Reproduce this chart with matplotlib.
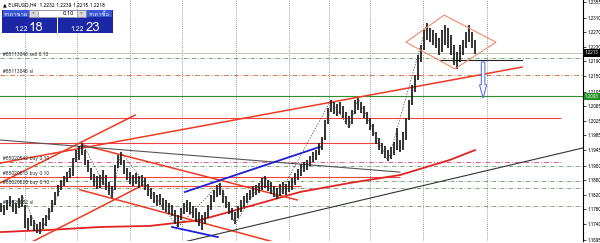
import numpy as np
import matplotlib
matplotlib.use('Agg')
import matplotlib.pyplot as plt
import matplotlib.font_manager as fm
from matplotlib.ft2font import FT2Font
from matplotlib.patches import Rectangle, Polygon

# EURUSD H4 bars (one bar every 3 px)
highs = [1.1797, 1.1792, 1.1806, 1.1817, 1.1806, 1.1797, 1.1811, 1.1820, 1.1792, 1.1756,
         1.1764, 1.1750, 1.1739, 1.1745, 1.1756, 1.1764, 1.1784, 1.1806, 1.1828, 1.1847,
         1.1861, 1.1872, 1.1883, 1.1894, 1.1922, 1.1944, 1.1955, 1.1964, 1.1944, 1.1917,
         1.1894, 1.1878, 1.1872, 1.1875, 1.1889, 1.1875, 1.1856, 1.1845, 1.1903, 1.1930,
         1.1939, 1.1917, 1.1894, 1.1883, 1.1875, 1.1881, 1.1872, 1.1875, 1.1867, 1.1850,
         1.1839, 1.1828, 1.1820, 1.1822, 1.1811, 1.1806, 1.1797, 1.1792, 1.1778, 1.1764,
         1.1784, 1.1797, 1.1806, 1.1800, 1.1789, 1.1784, 1.1773, 1.1764, 1.1773, 1.1792,
         1.1820, 1.1834, 1.1847, 1.1853, 1.1834, 1.1817, 1.1800, 1.1784, 1.1773, 1.1789,
         1.1806, 1.1817, 1.1825, 1.1834, 1.1845, 1.1847, 1.1853, 1.1867, 1.1872, 1.1861,
         1.1856, 1.1845, 1.1839, 1.1850, 1.1856, 1.1850, 1.1858, 1.1867, 1.1881, 1.1892,
         1.1906, 1.1911, 1.1917, 1.1928, 1.1939, 1.1944, 1.1964, 1.1980, 1.2027, 1.2061,
         1.2083, 1.2077, 1.2072, 1.2077, 1.2066, 1.2050, 1.2038, 1.2055, 1.2083, 1.2088,
         1.2077, 1.2066, 1.2050, 1.2033, 1.2016, 1.1994, 1.1978, 1.1964, 1.1955, 1.1944,
         1.1953, 1.1966, 1.2005, 1.1972, 1.1994, 1.2033, 1.2083, 1.2124, 1.2152, 1.2207,
         1.2235, 1.2277, 1.2296, 1.2282, 1.2277, 1.2268, 1.2255, 1.2277, 1.2291, 1.2282,
         1.2263, 1.2235, 1.2216, 1.2235, 1.2249, 1.2271, 1.2291, 1.2271, 1.2249]
lows = [1.1773, 1.1764, 1.1778, 1.1789, 1.1773, 1.1767, 1.1784, 1.1786, 1.1728, 1.1723,
        1.1734, 1.1720, 1.1714, 1.1712, 1.1725, 1.1734, 1.1750, 1.1773, 1.1792, 1.1817,
        1.1834, 1.1845, 1.1856, 1.1867, 1.1872, 1.1911, 1.1917, 1.1930, 1.1903, 1.1883,
        1.1861, 1.1845, 1.1836, 1.1839, 1.1847, 1.1834, 1.1820, 1.1811, 1.1834, 1.1894,
        1.1903, 1.1878, 1.1861, 1.1850, 1.1845, 1.1850, 1.1839, 1.1845, 1.1834, 1.1817,
        1.1809, 1.1797, 1.1789, 1.1792, 1.1778, 1.1773, 1.1767, 1.1761, 1.1739, 1.1731,
        1.1750, 1.1767, 1.1773, 1.1767, 1.1756, 1.1745, 1.1734, 1.1723, 1.1739, 1.1756,
        1.1778, 1.1800, 1.1814, 1.1820, 1.1797, 1.1784, 1.1767, 1.1750, 1.1739, 1.1756,
        1.1773, 1.1786, 1.1797, 1.1806, 1.1814, 1.1820, 1.1825, 1.1834, 1.1839, 1.1831,
        1.1822, 1.1814, 1.1809, 1.1817, 1.1822, 1.1820, 1.1828, 1.1834, 1.1847, 1.1861,
        1.1872, 1.1883, 1.1889, 1.1900, 1.1911, 1.1917, 1.1930, 1.1944, 1.1972, 1.2016,
        1.2050, 1.2044, 1.2038, 1.2044, 1.2033, 1.2016, 1.2005, 1.2016, 1.2044, 1.2055,
        1.2047, 1.2033, 1.2016, 1.2000, 1.1983, 1.1961, 1.1944, 1.1933, 1.1922, 1.1914,
        1.1919, 1.1930, 1.1944, 1.1939, 1.1944, 1.1972, 1.2027, 1.2069, 1.2105, 1.2138,
        1.2188, 1.2221, 1.2249, 1.2243, 1.2235, 1.2227, 1.2207, 1.2216, 1.2235, 1.2227,
        1.2207, 1.2180, 1.2169, 1.2188, 1.2207, 1.2227, 1.2243, 1.2227, 1.2210]

# price scale labels on the right
y_labels = ['1.2355', '1.2310', '1.2270', '1.2230', '1.2190', '1.2150', '1.2105', '1.2065',
            '1.2025', '1.1985', '1.1945', '1.1900', '1.1860', '1.1820', '1.1780', '1.1740', '1.1695']
bid = 1.2213
alert_price = 1.2093

# period separators (bar numbers)
grid_bars = [8, 25.3, 43, 60.3, 78.3, 96, 109.3, 123, 140.7, 162]

# zigzag: bar numbers of the swing points, starting with a high
zz_bars = [7, 13, 27, 37, 40, 59, 73, 78, 88, 92, 110, 116, 119, 129, 142]

# long moving average (bar, price)
ma_bars = [0, 16.3, 33, 49.7, 66.3, 83, 99.7, 116.3, 133, 149.7, 158]
ma_vals = [1.1717, 1.1723, 1.1731, 1.1734, 1.1750, 1.1789, 1.1828, 1.1853, 1.1875, 1.1917, 1.1944]

# trend lines, (bar, price) -> (bar, price)
red_lines = [((-0.3, 1.1853), (44.7, 1.2041)),
             ((9.7, 1.1687), (47.3, 1.1847)),
             ((-0.3, 1.1908), (173.7, 1.2174)),
             ((27.3, 1.1958), (98.7, 1.1806)),
             ((26.3, 1.1834), (92.0, 1.1687))]
grey_line = ((-0.3, 1.1972), (133.0, 1.1883))
black_line = ((59.7, 1.1687), (194.0, 1.1950))
blue_lines = [((61.3, 1.1828), (106.3, 1.1953)),
              ((57.0, 1.1731), (72.3, 1.1703))]
stop_line = ((146.3, 1.2194), (173.7, 1.2194))

# diamond pattern corners (bar, price)
diamond_bars = [135.0, 147.7, 165.0, 151.3]
diamond_vals = [1.2243, 1.2318, 1.2243, 1.2169]

# hollow arrow (bar, top, head start, tip)
arrow_bar = 160.7
arrow_top, arrow_head, arrow_tip = 1.2188, 1.2125, 1.2088

# horizontal lines: price, end bar
red_levels = [(1.2033, 186.7), (1.1964, 126.3), (1.1870, 133.0), (1.1845, 100.0)]
pink_levels = [(1.1911, 187.0)]
green_levels = [1.2199, 1.1900, 1.1858, 1.1839, 1.1789]
sl_level = 1.2152

# order labels on the left
order_labels = [(1.2199, '#85113046 sell 0.10'),
                (1.2152, '#85113046 sl'),
                (1.1911, '#85020542 buy 0.10'),
                (1.1870, '#85020613 buy 0.10'),
                (1.1845, '#85020620 buy 0.10'),
                (1.1789, '#85020652 sl')]

# find something that can draw Thai
thai_font = None
for f in fm.fontManager.ttflist:
    try:
        if 0x0E01 in FT2Font(f.fname).get_charmap():
            thai_font = f.name
            break
    except Exception:
        pass
fam = [thai_font, 'DejaVu Sans'] if thai_font else ['DejaVu Sans']
plt.rcParams['font.family'] = fam

fig = plt.figure(figsize=(6.0, 2.43), dpi=100)
ax = fig.add_axes([0, 2 / 243, 583 / 600, 241 / 243])
ax.set_xlim(-1 / 3, 194)
ax.set_ylim(1.16922, 1.23598)
for s in ['top', 'left', 'bottom']:
    ax.spines[s].set_visible(False)
ax.spines['right'].set_linewidth(0.8)
ax.set_xticks([])
ax.yaxis.tick_right()
ax.set_yticks([float(v) for v in y_labels])
ax.set_yticklabels(y_labels)
ax.tick_params(axis='y', labelsize=3.3, length=2, width=0.5, pad=1, colors='black')

for b in grid_bars:
    ax.axvline(b, color='#777777', lw=0.6, ls=(0, (1, 1.5)), zorder=1)

# horizontal levels
ax.axhline(bid, color='#b5c8b5', lw=0.7, zorder=1)
ax.axhline(alert_price, color='#2f8f2f', lw=0.8, zorder=1)
ax.axhline(sl_level, color='#d07a55', lw=0.7, ls=(0, (5, 2, 1, 2)), zorder=1)
for p in green_levels:
    ax.axhline(p, color='#6d9a6d', lw=0.6, ls=(0, (5, 2, 1, 2)), zorder=1)
for p, xe in red_levels:
    ax.hlines(p, -1, xe, color='#ee4444', lw=0.8, zorder=1)
for p, xe in pink_levels:
    ax.hlines(p, -1, xe, color='#e0607a', lw=0.7, ls=(0, (5, 2, 1, 2)), zorder=1)

# moving average and trend lines
ax.plot(ma_bars, ma_vals, color='#e32222', lw=1.3, zorder=2)
for (x0, p0), (x1, p1) in red_lines:
    ax.plot([x0, x1], [p0, p1], color='#ee3a22', lw=1.1, zorder=2)
ax.plot(*zip(*grey_line), color='#555555', lw=0.8, zorder=2)
ax.plot(*zip(*black_line), color='#333333', lw=0.8, zorder=2)
for (x0, p0), (x1, p1) in blue_lines:
    ax.plot([x0, x1], [p0, p1], color='#1f1fd8', lw=1.3, zorder=2)
ax.plot(*zip(*stop_line), color='#222222', lw=0.8, zorder=2)

# price bars
xs = np.arange(len(highs))
ax.vlines(xs, lows, highs, color='#1a1a1a', lw=1.25, zorder=3)

# zigzag
zz_vals = [highs[b] if i % 2 == 0 else lows[b] for i, b in enumerate(zz_bars)]
ax.plot(zz_bars, zz_vals, color='#444444', lw=0.5, ls=(0, (2, 2)), zorder=4)

# diamond
ax.add_patch(Polygon(list(zip(diamond_bars, diamond_vals)), closed=True, fill=False,
                     ec='#f08a6a', lw=0.8, zorder=4))

# hollow down arrow
w1, w2 = 0.6, 1.2
arrow = [(arrow_bar - w1, arrow_top), (arrow_bar + w1, arrow_top), (arrow_bar + w1, arrow_head),
         (arrow_bar + w2, arrow_head), (arrow_bar, arrow_tip), (arrow_bar - w2, arrow_head),
         (arrow_bar - w1, arrow_head)]
ax.add_patch(Polygon(arrow, closed=True, fc='white', ec='#4a66e0', lw=0.7, zorder=4))

for p, t in order_labels:
    ax.text(0.7, p + 0.0003, t, fontsize=3.6, color='#333333', va='bottom', ha='left', zorder=5)

# price boxes on the scale
ax.text(1.003, bid, f'{bid:.4f}', transform=ax.get_yaxis_transform(), fontsize=3.3,
        color='white', va='center', ha='left', clip_on=False,
        bbox=dict(fc='black', ec='none', pad=0.8))
ax.text(1.003, alert_price, f'{alert_price:.4f}', transform=ax.get_yaxis_transform(), fontsize=3.3,
        color='white', va='center', ha='left', clip_on=False,
        bbox=dict(fc='#1f8f1f', ec='none', pad=0.8))

# header and one-click trading panel, in pixels
ui = fig.add_axes([0, 0, 1, 1])
ui.set_xlim(0, 600)
ui.set_ylim(243, 0)
ui.axis('off')
ui.text(3, 5, '\u25b2 EURUSD,H4  1.2232 1.2239 1.2215 1.2218', fontsize=3.5, va='center', ha='left')

blue = '#1c27a6'
ui.add_patch(Rectangle((2, 10), 55, 23.5, fc=blue, ec='none'))
ui.add_patch(Rectangle((58, 10), 55, 23.5, fc=blue, ec='none'))
ui.add_patch(Rectangle((3, 10.5), 25.5, 7, fc='#3a57d6', ec='none'))
ui.add_patch(Rectangle((86.5, 10.5), 25.5, 7, fc='#3a57d6', ec='none'))
ui.text(15.7, 14.2, 'ราคาขาย', fontsize=4.2, color='white', ha='center', va='center')
ui.text(99.2, 14.2, 'ราคาซื้อ', fontsize=4.2, color='white', ha='center', va='center')
ui.add_patch(Rectangle((29, 10), 9, 7.5, fc='#d9d9d9', ec='#9a9a9a', lw=0.4))
ui.add_patch(Rectangle((38, 10), 39, 7.5, fc='white', ec='#9a9a9a', lw=0.4))
ui.add_patch(Rectangle((77, 10), 9, 7.5, fc='#d9d9d9', ec='#9a9a9a', lw=0.4))
ui.text(33.5, 13.8, '\u25bc', fontsize=2.5, color='#888888', ha='center', va='center')
ui.text(81.5, 13.8, '\u25bc', fontsize=2.5, color='#888888', ha='center', va='center')
ui.text(74.5, 13.8, '0.10', fontsize=4.2, color='black', ha='right', va='center')
ui.text(27.5, 31, '1.22', fontsize=5, color='white', ha='right', va='baseline')
ui.text(29, 31, '18', fontsize=9.5, color='white', ha='left', va='baseline')
ui.text(84, 31, '1.22', fontsize=5, color='white', ha='right', va='baseline')
ui.text(85.5, 31, '23', fontsize=9.5, color='white', ha='left', va='baseline')

fig.savefig('out.png', dpi=100, facecolor='white')
